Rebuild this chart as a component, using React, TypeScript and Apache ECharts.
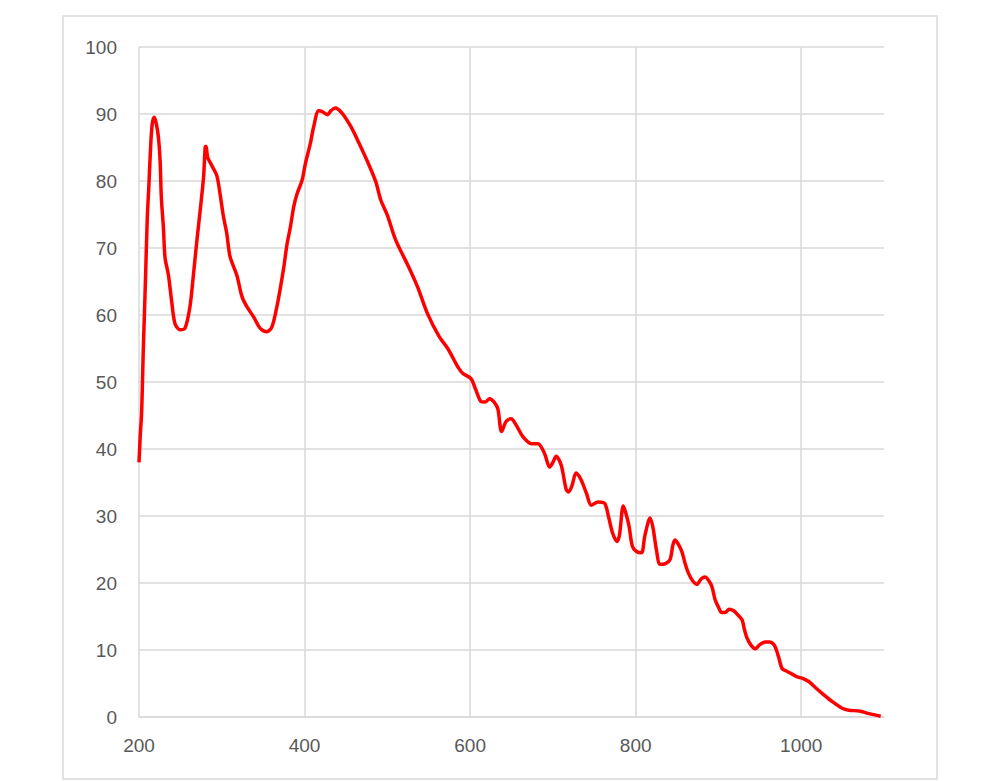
import React, { useEffect, useRef } from "react";
import * as echarts from "echarts";

const wavelengths: number[] = [
  200, 201.5, 203, 204, 205, 206.5, 208, 210, 212, 214, 216, 218.5, 221, 223.5, 225.5, 227, 229.5, 231.5,
  235.5, 239.5, 243.5, 249.5, 255.5, 261.5, 265.5, 270, 274, 278, 280, 281, 283, 288, 294, 298, 302, 306,
  310, 318, 324.5, 330.5, 338.5, 346.5, 354.5, 360.5, 366.5, 371, 375, 379, 383, 387, 391, 397, 401, 407,
  411, 417, 421, 427.5, 432, 437, 445.5, 456, 466, 476, 486, 492, 500, 510, 524.5, 536.5, 548.5, 562.5,
  573, 585, 591, 601, 607, 613, 618, 623.5, 629, 633.5, 638, 643.5, 649.5, 655.5, 664, 674, 682, 690,
  696, 700, 704, 710, 716, 719, 723, 728, 734, 740.5, 746.5, 754.5, 762.5, 767, 772, 777.5, 780.5, 785,
  788, 792, 796, 801, 807, 811, 817.5, 821, 825, 829.5, 836, 841.5, 845, 847.5, 852, 856, 860, 864, 869,
  874, 879, 884, 888, 892, 896, 900, 904, 908, 913, 918, 923, 928.5, 931.5, 934.5, 939.5, 944.5, 950,
  956.5, 962, 967, 970, 973, 977, 983, 989, 995, 1001, 1009, 1017, 1025.5, 1037.5, 1049.5, 1057.5, 1070,
  1082, 1096,
];

const values: number[] = [
  38, 42, 45, 49, 54, 60, 66, 74.5, 79.5, 85, 88.5, 89.5, 88.5, 86.5, 83, 77.5, 73, 68.5,
  66, 62, 58.7, 57.8, 58, 61.2, 65.7, 71.2, 75.7, 80.6, 85.1, 85.2, 83.5, 82.3, 80.8, 78, 74.7, 72.2,
  68.7, 66, 62.7, 61.2, 59.7, 58, 57.5, 58.2, 61.2, 64.2, 67.2, 70.7, 73.2, 76.2, 78.1, 80.1, 82.6, 85.6,
  88.1, 90.5, 90.4, 89.9, 90.5, 90.9, 90.1, 88.1, 85.6, 82.9, 79.9, 77.2, 74.9, 71.2, 67.5, 64.2, 60.2, 56.8,
  55, 52.3, 51.3, 50.5, 48.8, 47.1, 47, 47.5, 47, 46, 42.6, 44.1, 44.5, 43.6, 41.8, 40.8, 40.8, 39.3,
  37.3, 38, 38.9, 37.6, 34, 33.6, 34.5, 36.4, 35.4, 33.4, 31.6, 32.1, 31.9, 30, 27.5, 26.2, 27.2, 31.5,
  30.5, 28.5, 25.5, 24.7, 24.5, 27, 29.7, 28.2, 25, 22.8, 22.9, 23.5, 25.7, 26.4, 25.7, 24.6, 22.8, 21.4, 20.3,
  19.8, 20.6, 20.9, 20.4, 19.5, 17.5, 16.4, 15.6, 15.6, 16.1, 15.9, 15.3, 14.5, 13, 11.8, 10.7, 10.2, 10.8,
  11.2, 11.2, 10.8, 10, 8.8, 7.2, 6.8, 6.4, 6, 5.8, 5.3, 4.4, 3.5, 2.3, 1.3, 1, 0.9,
  0.5, 0.1,
];

const xMin = 200;
const xMax = 1100;
const xStep = 200;
const yMin = 0;
const yMax = 100;
const yStep = 10;

export default function App() {
  const ref = useRef<HTMLDivElement>(null);

  useEffect(() => {
    if (!ref.current) return;
    const chart = echarts.init(ref.current, undefined, { renderer: "svg" });
    const data = wavelengths.map((x, i) => [x, values[i]]);
    const gridColor = "#d9d9d9";
    const labelColor = "#595959";
    const font = "'Liberation Sans', Arial, sans-serif";
    chart.setOption({
      animation: false,
      backgroundColor: "#ffffff",
      graphic: [
        {
          type: "rect",
          shape: { x: 63, y: 16, width: 874, height: 763 },
          style: { fill: "none", stroke: gridColor, lineWidth: 1.5 },
          silent: true,
        },
      ],
      grid: { left: 139, right: 116, top: 47, bottom: 64, containLabel: false },
      xAxis: {
        type: "value",
        min: xMin,
        max: xMax,
        interval: xStep,
        axisLine: { show: true, lineStyle: { color: gridColor, width: 1.5 } },
        axisTick: { show: false },
        axisLabel: {
          color: labelColor,
          fontSize: 19,
          fontFamily: font,
          margin: 19,
          showMaxLabel: false,
          formatter: (v: number) => (v === xMax ? "" : String(v)),
        },
        splitLine: {
          show: true,
          showMaxLine: false,
          lineStyle: { color: gridColor, width: 1.5 },
        },
      },
      yAxis: {
        type: "value",
        min: yMin,
        max: yMax,
        interval: yStep,
        axisLine: { show: false },
        axisTick: { show: false },
        axisLabel: {
          color: labelColor,
          fontSize: 19,
          fontFamily: font,
          margin: 22,
        },
        splitLine: { show: true, lineStyle: { color: gridColor, width: 1.5 } },
      },
      series: [
        {
          type: "line",
          data,
          showSymbol: false,
          smooth: 0.3,
          lineStyle: { color: "#ff0000", width: 3.5 },
          itemStyle: { color: "#ff0000" },
        },
      ],
    });
    return () => chart.dispose();
  }, []);

  return (
    <div
      ref={ref}
      style={{ position: "absolute", left: 0, top: 0, width: 1000, height: 781, background: "#fff" }}
    />
  );
}
